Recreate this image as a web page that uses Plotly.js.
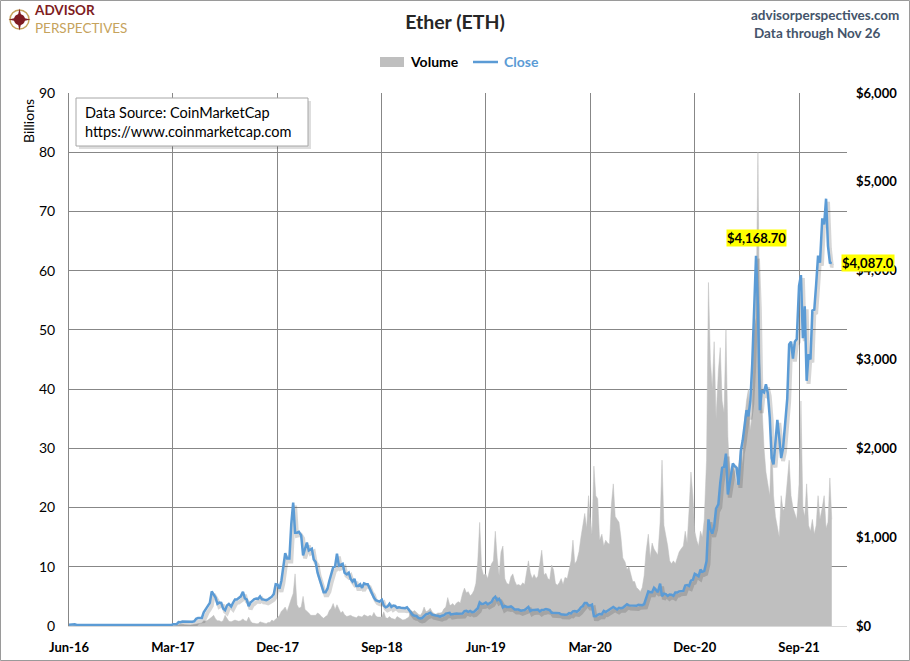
<!DOCTYPE html>
<html><head><meta charset="utf-8">
<script src="https://cdn.plot.ly/plotly-3.0.1.min.js"></script>
<style>html,body{margin:0;padding:0;background:#fff}#chart{width:910px;height:661px}</style>
</head><body><div id="chart"></div>
<script>
// ---------- DATA ----------
const months = [
 '2016-06','2016-07','2016-08','2016-09','2016-10','2016-11','2016-12',
 '2017-01','2017-02','2017-03','2017-04','2017-05','2017-06','2017-07','2017-08','2017-09','2017-10','2017-11','2017-12',
 '2018-01','2018-02','2018-03','2018-04','2018-05','2018-06','2018-07','2018-08','2018-09','2018-10','2018-11','2018-12',
 '2019-01','2019-02','2019-03','2019-04','2019-05','2019-06','2019-07','2019-08','2019-09','2019-10','2019-11','2019-12',
 '2020-01','2020-02','2020-03','2020-04','2020-05','2020-06','2020-07','2020-08','2020-09','2020-10','2020-11','2020-12',
 '2021-01','2021-02','2021-03','2021-04','2021-05','2021-06','2021-07','2021-08','2021-09','2021-10','2021-11'
];
const sampleDays = ['01','06','11','16','21','26'];

// ETH close, US$ (six readings per month)
const closeUSD = [
 14,13.9,14.5,20.5,11.5,14,
 12.5,10.7,10.9,11.7,14.5,12.6,
 12.2,10.9,11.6,11.2,11.2,11.3,
 12.1,11.9,11.8,12.1,13.0,12.9,
 13.3,12.0,11.8,12.0,12.0,11.4,
 10.9,11.1,10.4,10.0,9.7,8.7,
 8.1,8.4,8.1,7.8,7.6,7.3,
 8.2,10.2,10.2,10.1,10.8,10.5,
 10.7,11.4,11.2,12.8,12.8,13.6,
 19,19.5,21,44,42,50,
 50,43,44,48,48,53,
 80,89,88,90,154,183,
 222,260,390,350,320,250,
 263,261,196,178,230,248,
 220,262,298,298,320,331,
 385,312,297,222,264,288,
 302,308,306,334,300,297,
 290,300,315,330,360,470,
 465,420,510,700,820,760,
 760,1150,1390,1050,1050,1060,
 1020,795,860,940,850,860,
 870,750,720,600,530,480,
 380,380,420,510,600,660,
 670,815,680,690,700,600,
 580,600,530,500,530,450,
 450,470,430,480,470,470,
 410,380,320,290,280,275,
 295,230,210,220,250,215,
 230,225,205,210,205,205,
 200,210,180,150,125,115,
 112,92,85,90,115,130,
 140,150,127,120,118,115,
 105,115,120,140,145,148,
 130,135,135,140,137,137,
 141,168,170,160,170,155,
 160,180,200,265,248,250,
 265,245,255,270,310,330,
 290,305,268,210,225,215,
 215,220,205,185,185,185,
 172,180,180,197,215,168,
 180,180,180,185,165,180,
 183,190,185,180,150,150,
 152,148,145,132,128,127,
 130,145,142,165,168,160,
 180,210,225,260,260,230,
 230,240,112,110,125,135,
 133,170,158,170,182,195,
 214,200,187,205,200,205,
 230,245,232,230,235,233,
 227,240,240,235,245,310,
 390,380,380,430,410,380,
 477,335,365,360,340,355,
 353,340,377,377,390,390,
 395,455,460,450,510,520,
 587,575,560,635,610,620,
 730,1200,1090,1040,1120,1320,
 1370,1610,1780,1790,1940,1480,
 1570,1660,1830,1800,1780,1590,
 1970,2090,2300,2430,2360,2530,
 2950,3500,4168.7,3600,2430,2650,
 2630,2720,2620,2350,1890,1820,
 2110,2320,2120,1890,2000,2300,
 2560,3170,3200,3010,3200,3230,
 3830,3950,3240,3600,2760,3060,
 3000,3550,3560,3850,4170,4090,
 4590,4520,4810,4280,4090,4087
];

// Daily volume, billions US$ (six readings per month)
const volumeBn = [
 0.03,0.04,0.1,0.2,0.1,0.05,
 0.03,0.02,0.02,0.03,0.08,0.06,
 0.02,0.02,0.02,0.02,0.02,0.02,
 0.02,0.02,0.02,0.02,0.02,0.02,
 0.02,0.02,0.02,0.02,0.01,0.01,
 0.01,0.01,0.01,0.01,0.02,0.01,
 0.01,0.01,0.01,0.01,0.01,0.01,
 0.01,0.02,0.02,0.01,0.01,0.02,
 0.01,0.02,0.02,0.02,0.02,0.03,
 0.05,0.06,0.15,0.2,0.35,0.3,
 0.2,0.15,0.12,0.15,0.2,0.25,
 0.3,0.3,0.4,0.5,0.9,0.8,
 1.0,1.2,1.5,1.8,1.2,0.9,
 0.9,0.7,0.9,1.8,1.3,0.8,
 0.7,0.8,1.0,0.9,0.8,0.9,
 1.2,0.9,0.8,1.5,0.8,0.5,
 0.4,0.4,0.4,0.7,0.6,0.5,
 0.4,0.6,0.6,1.0,0.8,1.2,
 1.4,1.8,2.5,2.8,3.2,2.4,
 3.8,4.6,5.5,8.8,3.6,3.0,
 3.2,5.0,2.8,2.4,2.2,1.8,
 1.8,1.9,1.8,2.2,2.0,1.6,
 1.3,1.6,1.8,2.6,3.0,3.8,
 2.8,3.6,2.8,2.2,2.5,1.9,
 1.6,1.7,1.8,1.6,1.5,1.4,
 1.7,1.6,1.5,1.9,1.7,1.6,
 1.8,1.6,2.3,1.7,1.5,1.5,
 1.5,2.4,1.4,1.3,1.6,1.3,
 1.2,1.1,1.6,1.4,1.1,1.0,
 1.1,1.3,1.5,2.6,2.4,2.6,
 2.2,2.0,1.8,2.3,3.2,2.4,
 2.6,3.0,2.4,2.1,2.0,2.2,
 2.2,2.3,2.9,3.2,4.8,3.6,
 3.5,3.8,3.4,3.9,4.1,3.9,
 5.5,6.4,5.6,5.8,5.1,5.4,
 6.0,7.2,11.0,17.5,9.8,8.6,
 8.8,8.0,9.5,10.5,11.0,16.0,
 11.5,8.5,12.5,13.5,8.0,7.2,
 7.0,8.3,8.8,7.6,6.9,7.0,
 6.8,7.3,7.0,9.0,11.0,9.0,
 8.0,8.7,8.0,8.4,10.5,12.8,
 8.6,8.9,8.0,7.8,10.3,9.5,
 7.2,6.9,7.3,8.0,7.0,8.2,
 8.0,9.8,11.0,14.5,10.5,11.0,
 12.6,15.0,17.5,19.0,16.5,22.0,
 18.5,15.5,27.0,22.0,21.5,14.5,
 15.5,13.5,14.5,14.0,13.8,20.5,
 24.0,18.5,18.0,17.5,15.0,11.5,
 10.8,9.5,10.0,8.5,7.5,7.5,
 6.5,6.2,5.8,6.5,8.5,12.5,
 15.5,11.5,14.0,13.0,12.5,12.0,
 17.5,28.0,17.0,15.5,13.5,11.0,
 10.5,11.0,10.5,11.5,12.5,13.0,
 13.5,16.0,14.0,19.5,26.0,22.0,
 16.0,14.5,13.5,16.0,15.0,18.0,
 28.0,58.0,45.0,40.0,48.0,35.0,
 43.0,47.0,38.0,36.0,50.0,32.0,
 28.0,25.0,27.0,26.0,24.0,27.0,
 30.0,27.0,35.0,38.0,40.0,33.0,
 36.0,50.0,52.0,80.0,45.0,38.0,
 30.0,26.0,24.0,22.0,32.0,22.0,
 18.5,17.0,15.0,22.0,19.5,20.0,
 24.0,28.0,22.0,20.0,19.0,18.0,
 24.0,38.0,20.0,18.5,24.0,17.0,
 16.0,18.0,15.5,17.0,22.0,18.0,
 20.0,22.0,16.5,17.5,25.0,18.0
];

const chartTitle = 'Ether (ETH)';
const seriesNames = ['Volume', 'Close'];
const sourceLines = ['Data Source: CoinMarketCap', 'https://www.coinmarketcap.com'];
const siteText = 'advisorperspectives.com';
const throughText = 'Data through Nov 26';
const logoLines = ['ADVISOR', 'PERSPECTIVES'];

// ---------- BUILD ----------
const dates = months.flatMap(m => sampleDays.map(d => m + '-' + d));

const FONT = 'Lato, "Open Sans", sans-serif';
const BLUE = '#5B9BD5';
const GRID = '#878787';
const L = 69, R = 847, T = 93, B = 626;
const px = x => (x - L) / (R - L);
const py = y => (B - y) / (B - T);
const X_RANGE = ['2016-06-01', '2022-01-05'];

const peakIdx = closeUSD.indexOf(Math.max(...closeUSD.slice(0, 360)));
const lastIdx = closeUSD.length - 1;
const fmt = (v, d) => '$' + v.toLocaleString('en-US', {minimumFractionDigits: d, maximumFractionDigits: d});

const traces = [
  {x: dates, y: volumeBn, type: 'scatter', mode: 'lines', fill: 'tozeroy',
   fillcolor: '#BFBFBF', line: {color: '#BFBFBF', width: 0.5}, xaxis: 'x', yaxis: 'y',
   name: seriesNames[0], showlegend: false, hoverinfo: 'skip'},
  {x: dates, y: closeUSD, type: 'scatter', mode: 'lines',
   line: {color: 'rgba(70,70,70,0.22)', width: 4}, xaxis: 'x2', yaxis: 'y2',
   showlegend: false, hoverinfo: 'skip'},
  {x: dates, y: closeUSD, type: 'scatter', mode: 'lines',
   line: {color: BLUE, width: 2.5}, xaxis: 'x3', yaxis: 'y3',
   name: seriesNames[1], showlegend: false}
];

const shapes = [
  {type: 'rect', xref: 'paper', yref: 'paper', x0: px(0.5), x1: px(909.5), y0: py(0.5), y1: py(660.5),
   line: {color: '#9a9a9a', width: 1}, fillcolor: 'rgba(0,0,0,0)', layer: 'below'},
  {type: 'rect', xref: 'paper', yref: 'paper', x0: px(79), x1: px(311), y0: py(101), y1: py(149),
   line: {width: 0}, fillcolor: 'rgba(0,0,0,0.13)'},
  {type: 'rect', xref: 'paper', yref: 'paper', x0: px(76), x1: px(308), y0: py(98), y1: py(146),
   line: {color: '#a6a6a6', width: 1}, fillcolor: '#ffffff'},
  {type: 'rect', xref: 'paper', yref: 'paper', x0: px(380), x1: px(404), y0: py(57), y1: py(67),
   line: {width: 0}, fillcolor: '#BFBFBF'},
  {type: 'line', xref: 'paper', yref: 'paper', x0: px(473), x1: px(498), y0: py(62), y1: py(62),
   line: {color: BLUE, width: 2.5}},
  {type: 'circle', xref: 'paper', yref: 'paper', x0: px(10), x1: px(29), y0: py(10), y1: py(29),
   line: {color: '#C6A35C', width: 1.5}, fillcolor: 'rgba(0,0,0,0)'},
  {type: 'circle', xref: 'paper', yref: 'paper', x0: px(14), x1: px(25), y0: py(14), y1: py(25),
   line: {width: 0}, fillcolor: '#7E1C22'},
  {type: 'path', xref: 'paper', yref: 'paper',
   path: (() => {
     const c = [19.5, 19.5], pts = [];
     for (let i = 0; i < 8; i++) {
       const a = i * Math.PI / 4, r = (i % 2 === 0) ? 11 : 3;
       pts.push([c[0] + r * Math.sin(a), c[1] - r * Math.cos(a)]);
     }
     return 'M' + pts.map(p => px(p[0]) + ',' + py(p[1])).join('L') + 'Z';
   })(),
   line: {width: 0}, fillcolor: '#7E1C22'}
];

const ann = (x, y, text, opts) => Object.assign({xref: 'paper', yref: 'paper', x: px(x), y: py(y),
  text, showarrow: false, xanchor: 'left', yanchor: 'middle', font: {family: FONT, size: 14, color: '#000'}}, opts || {});

const annotations = [
  ann(32, 19, '<b><span style="color:#7E1C22">' + logoLines[0] + '</span></b><br><span style="color:#C6A35C">' + logoLines[1] + '</span>',
      {align: 'left', font: {family: FONT, size: 13.5, color: '#7E1C22'}}),
  ann(749, 15, '<b>' + siteText + '</b>', {font: {family: FONT, size: 13.5, color: '#44546A'}}),
  ann(752, 33, '<b>' + throughText + '</b>', {font: {family: FONT, size: 13.5, color: '#44546A'}}),
  ann(408, 62, '<b>' + seriesNames[0] + '</b>', {font: {family: FONT, size: 14, color: '#000'}}),
  ann(502, 62, '<b>' + seriesNames[1] + '</b>', {font: {family: FONT, size: 14, color: BLUE}}),
  ann(83, 122, sourceLines.join('<br>'), {align: 'left', font: {family: FONT, size: 14.5, color: '#000'}}),
  ann(28, 121, 'Billions', {xanchor: 'center', textangle: -90, font: {family: FONT, size: 14, color: '#000'}}),
  {xref: 'x3', yref: 'y3', x: dates[peakIdx], y: closeUSD[peakIdx], yshift: 18, showarrow: false,
   text: '<b>' + fmt(closeUSD[peakIdx], 2) + '</b>', bgcolor: '#FFFF00', borderpad: 0,
   xanchor: 'center', yanchor: 'middle', font: {family: FONT, size: 13, color: '#000'}},
  {xref: 'x3', yref: 'y3', x: dates[lastIdx], y: closeUSD[lastIdx], xshift: 9, showarrow: false,
   text: '<b>' + fmt(closeUSD[lastIdx], 1) + '</b>', bgcolor: '#FFFF00', borderpad: 0,
   xanchor: 'left', yanchor: 'middle', font: {family: FONT, size: 13, color: '#000'}}
];

const layout = {
  width: 910, height: 661,
  margin: {l: L, r: 910 - R, t: T, b: 661 - B, pad: 0},
  paper_bgcolor: '#fff', plot_bgcolor: '#fff',
  showlegend: false,
  title: {text: '<b>' + chartTitle + '</b>', x: 0.5, xref: 'container', y: 1 - 22 / 661, yref: 'container',
          yanchor: 'middle', font: {family: FONT, size: 19.5, color: '#262626'}},
  xaxis: {type: 'date', range: X_RANGE, tick0: '2016-06-01', dtick: 'M9',
          tickformat: '%b-%y', showgrid: true, gridcolor: GRID, gridwidth: 1,
          showline: true, linecolor: '#d9d9d9', linewidth: 1, zeroline: false, ticks: '',
          ticklabelstandoff: 9,
          tickfont: {family: FONT, size: 13, weight: 'bold', color: '#000'}},
  xaxis2: {type: 'date', overlaying: 'x', anchor: 'y2', visible: false,
           range: ['2016-05-27', '2021-12-31']},
  xaxis3: {type: 'date', overlaying: 'x', anchor: 'y3', visible: false, range: X_RANGE},
  yaxis: {range: [0, 90], dtick: 10, showgrid: true, gridcolor: GRID, gridwidth: 1, zeroline: false,
          showline: true, linecolor: GRID, ticks: '', ticklabelstandoff: 10,
          tickfont: {family: FONT, size: 14, color: '#000'}},
  yaxis2: {overlaying: 'y', anchor: 'x2', visible: false, range: [34, 6034]},
  yaxis3: {overlaying: 'y', anchor: 'x3', side: 'right', range: [0, 6000], dtick: 1000, tickformat: '$,.0f',
           showgrid: false, zeroline: false, showline: false, ticks: '', ticklabelstandoff: 8,
           tickfont: {family: FONT, size: 13, weight: 'bold', color: '#000'}},
  shapes, annotations
};

Plotly.newPlot('chart', traces, layout, {displayModeBar: false, staticPlot: true});
</script>
</body></html>
